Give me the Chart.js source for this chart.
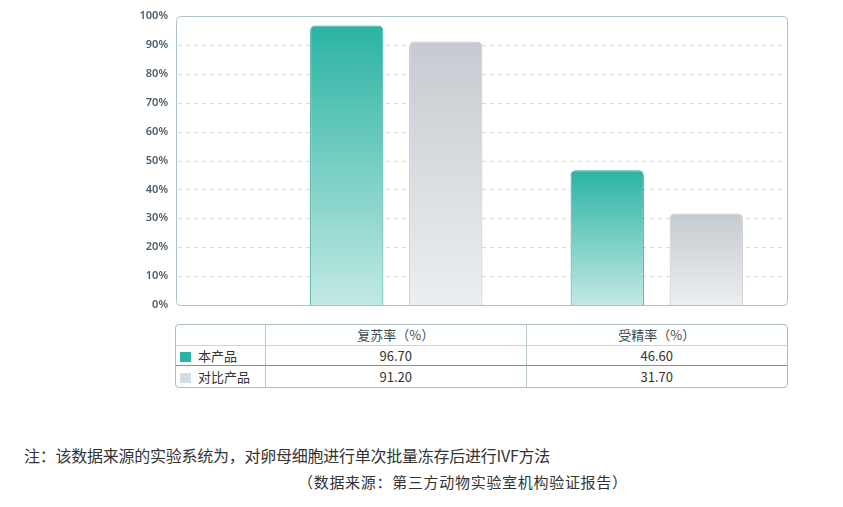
<!DOCTYPE html>
<html lang="zh">
<head>
<meta charset="utf-8">
<script src="https://cdn.jsdelivr.net/npm/chart.js@4.4.1/dist/chart.umd.min.js"></script>
<style>
    html, body { margin: 0; padding: 0; background: #fff; }
    body { width: 843px; height: 507px; position: relative; overflow: hidden;
           font-family: "Noto Sans CJK SC", "Noto Sans", sans-serif; }
    #chartBox { position: absolute; left: 0; top: 0; width: 843px; height: 320px; }
    #dataTable { position: absolute; left: 175px; top: 324px; width: 613px;
                 border-collapse: separate; border-spacing: 0; table-layout: fixed;
                 border: 1px solid #a9bcc4; border-radius: 4px; font-size: 13px; color: #333; }
    #dataTable th, #dataTable td { padding: 0; text-align: center; font-weight: 400; line-height: 16px;
                                   border-right: 1px solid #bccad0; }
    #dataTable th:last-child, #dataTable td:last-child { border-right: none; }
    #dataTable thead th { height: 20px; border-bottom: 1px solid #c9d4d8; color: #3d4a52; }
    #dataTable tbody tr:first-child td { height: 19px; border-bottom: 1px solid #7f929b; }
    #dataTable tbody tr:last-child td { height: 21px; }
    #dataTable td.name { text-align: left; padding-left: 4px; }
    .sw { display: inline-block; width: 11px; height: 10px; margin-right: 7px; vertical-align: -1px; }
    .note { position: absolute; margin: 0; line-height: 20px; color: #333; white-space: nowrap; }
</style>
</head>
<body>
<div id="chartBox"><canvas id="ivfChart"></canvas></div>
<table id="dataTable"></table>
<p class="note" id="note1" style="left:24px; top:445px; font-size:16px; letter-spacing:-0.25px;"></p>
<p class="note" id="note2" style="left:298px; top:472px; font-size:15px; letter-spacing:0.7px;"></p>

<script>
// ---- data ----
const categories = ['复苏率（%）', '受精率（%）'];
const seriesNames = ['本产品', '对比产品'];
const ourProduct = [96.7, 46.6];
const compProduct = [91.2, 31.7];
const yTicks = [0, 10, 20, 30, 40, 50, 60, 70, 80, 90, 100];
const noteText = '注：该数据来源的实验系统为，对卵母细胞进行单次批量冻存后进行IVF方法';
const sourceText = '（数据来源：第三方动物实验室机构验证报告）';

const COLORS = {
    tealTop: '#2bb3a3',
    tealBottom: '#c2e9e3',
    tealEdge: '#33a596',
    greyTop: '#c6cbd1',
    greyBottom: '#eceef0',
    greyEdge: '#c2c7cc',
    swatchTeal: '#2db3a2',
    swatchGrey: '#d2dde8',
    frame: '#aec2ca',
    grid: '#d6dcdf',
    tick: '#4a5d6c'
};

const LABEL_COL = 90; // width of the table's name column, the frame starts there

/**
 * Vertical gradient from the bar's top down to the zero line
 */
const barGradient = (context, top, bottom) => {
    const chart = context.chart;
    const { chartArea, scales } = chart;
    if (!chartArea || context.type !== 'data') return top;
    const y0 = scales.y.getPixelForValue(0);
    const y1 = scales.y.getPixelForValue(context.parsed.y);
    const g = chart.ctx.createLinearGradient(0, y1, 0, y0);
    g.addColorStop(0, top);
    g.addColorStop(1, bottom);
    return g;
};

// frame + dashed grid, reaching left over the name column
const framePlugin = {
    id: 'frame',
    beforeDatasetsDraw(chart) {
        const { ctx, chartArea, scales: { y } } = chart;
        const left = chartArea.left - LABEL_COL;
        const right = chartArea.right;
        const top = y.getPixelForValue(100);
        const bottom = y.getPixelForValue(0);
        ctx.save();
        ctx.strokeStyle = COLORS.grid;
        ctx.lineWidth = 1;
        ctx.setLineDash([4, 4]);
        yTicks.slice(1, -1).forEach(v => {
            const py = Math.round(y.getPixelForValue(v)) + 0.5;
            ctx.beginPath();
            ctx.moveTo(left + 2, py);
            ctx.lineTo(right - 2, py);
            ctx.stroke();
        });
        ctx.setLineDash([]);
        ctx.strokeStyle = COLORS.frame;
        ctx.beginPath();
        ctx.roundRect(left + 0.5, Math.round(top) + 0.5, right - left, Math.round(bottom - top), 4);
        ctx.stroke();
        ctx.restore();
    }
};

const createIvfChart = () => {
    const ctx = document.getElementById('ivfChart').getContext('2d');
    return new Chart(ctx, {
        type: 'bar',
        data: {
            labels: categories,
            datasets: [{
                label: seriesNames[0],
                data: ourProduct,
                backgroundColor: (c) => barGradient(c, COLORS.tealTop, COLORS.tealBottom),
                borderColor: COLORS.tealEdge,
                borderWidth: 1,
                borderSkipped: 'bottom',
                borderRadius: { topLeft: 5, topRight: 5 }
            }, {
                label: seriesNames[1],
                data: compProduct,
                backgroundColor: (c) => barGradient(c, COLORS.greyTop, COLORS.greyBottom),
                borderColor: COLORS.greyEdge,
                borderWidth: 1,
                borderSkipped: 'bottom',
                borderRadius: { topLeft: 5, topRight: 5 }
            }]
        },
        options: {
            responsive: true,
            maintainAspectRatio: false,
            animation: false,
            categoryPercentage: 0.76,
            barPercentage: 0.74,
            layout: { padding: { top: 16, bottom: 15, left: 0, right: 56 } },
            scales: {
                x: { display: false },
                y: {
                    min: 0,
                    max: 100,
                    afterFit: (scale) => {
                        // big label gap only horizontally, not above/below
                        scale.width = 266;
                        scale.paddingTop = 0;
                        scale.paddingBottom = 0;
                    },
                    afterBuildTicks: (scale) => { scale.ticks = yTicks.map(v => ({ value: v })); },
                    grid: { display: false, drawTicks: false },
                    border: { display: false },
                    ticks: {
                        padding: 98,
                        color: COLORS.tick,
                        font: { family: '"Noto Sans", sans-serif', size: 11, weight: '600' },
                        callback: (value) => value + '%'
                    }
                }
            },
            plugins: {
                legend: { display: false },
                tooltip: { enabled: false }
            }
        },
        plugins: [framePlugin]
    });
};

const buildTable = () => {
    const table = document.getElementById('dataTable');
    const series = [ourProduct, compProduct];
    const swatches = [COLORS.swatchTeal, COLORS.swatchGrey];
    let html = '<colgroup><col style="width:90px"><col><col></colgroup>';
    html += '<thead><tr><th></th>' + categories.map(c => `<th>${c}</th>`).join('') + '</tr></thead><tbody>';
    seriesNames.forEach((name, i) => {
        html += `<tr><td class="name"><span class="sw" style="background:${swatches[i]}"></span>${name}</td>`;
        html += series[i].map(v => `<td>${v.toFixed(2)}</td>`).join('') + '</tr>';
    });
    html += '</tbody>';
    table.innerHTML = html;
};

document.getElementById('note1').textContent = noteText;
document.getElementById('note2').textContent = sourceText;
buildTable();
createIvfChart();
</script>
</body>
</html>
